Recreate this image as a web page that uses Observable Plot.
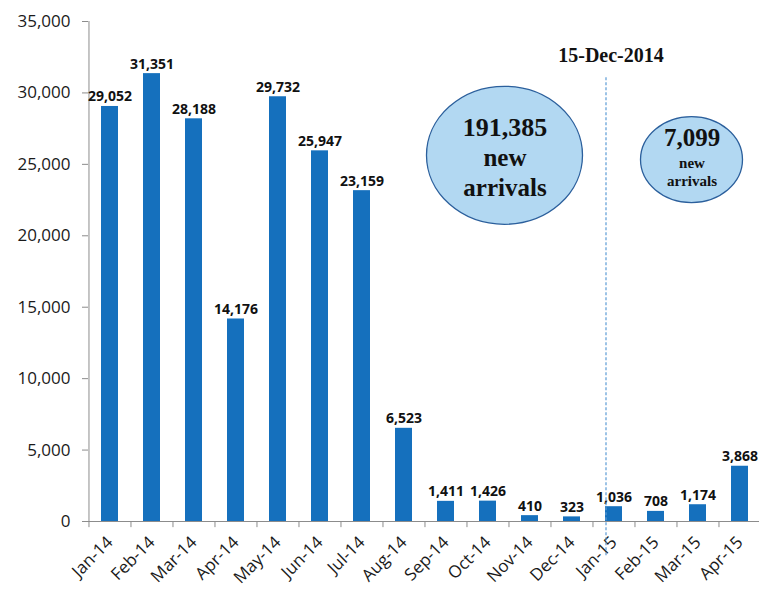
<!DOCTYPE html>
<html><head><meta charset="utf-8">
<script src="https://cdn.jsdelivr.net/npm/d3@7"></script>
<script src="https://cdn.jsdelivr.net/npm/@observablehq/plot@0.6"></script>
<style>body{margin:0;background:#fff}#chart svg{display:block}</style>
</head><body><div id="chart"></div>
<script>
const months = ["Jan-14","Feb-14","Mar-14","Apr-14","May-14","Jun-14","Jul-14","Aug-14","Sep-14","Oct-14","Nov-14","Dec-14","Jan-15","Feb-15","Mar-15","Apr-15"];
const arrivals = [29052,31351,28188,14176,29732,25947,23159,6523,1411,1426,410,323,1036,708,1174,3868];
const yTicks = [0,5000,10000,15000,20000,25000,30000,35000];
const cutoffLabel = "15-Dec-2014";
const cutoffMonth = "Jan-15";
const bubbleMonths = ["Oct-14","Mar-15"];
const bubbleTotals = ["191,385","7,099"];
const bubbleWords = ["new","arrivals"];

const data = months.map((m,i)=>({month:m, value:arrivals[i]}));

const W = 759, H = 589, ML = 88, MR = -2, MT = 21, MB = 68;
const step = (W - ML - MR) / months.length;
const fmt = d3.format(",");
const gray = "#8c8c8c";
const serif = "'Liberation Serif', 'DejaVu Serif', serif";

// bubble geometry (pixel offsets/sizes) and vertical anchors (data units)
const bubbles = [
  {month: bubbleMonths[0], dx: 17, v: 25600, rx: 78, ry: 69, total: bubbleTotals[0], big: true},
  {month: bubbleMonths[1], dx: -6, v: 25300, rx: 51, ry: 43, total: bubbleTotals[1], big: false}
];

function ellipses(arr) {
  return Plot.dot(arr, {x: "month", y: "v", render(index, scales) {
    const g = d3.create("svg:g");
    const bw = scales.x.bandwidth ? scales.x.bandwidth() : 0;
    for (const i of index) {
      const b = arr[i];
      g.append("ellipse")
        .attr("cx", scales.x(b.month) + bw/2 + b.dx)
        .attr("cy", scales.y(b.v))
        .attr("rx", b.rx).attr("ry", b.ry)
        .attr("fill", "#b2d8f2").attr("stroke", "#2b5f9c").attr("stroke-width", 1.3);
    }
    return g.node();
  }});
}

const big = bubbles.filter(b=>b.big), small = bubbles.filter(b=>!b.big);

const chart = Plot.plot({
  width: W, height: H,
  marginLeft: ML, marginRight: MR, marginTop: MT, marginBottom: MB,
  style: {fontFamily: "'Open Sans', sans-serif", color: "#1a1a1a", background: "#fff"},
  x: {domain: months, paddingInner: 0.6, paddingOuter: 0.3, label: null},
  y: {domain: [0, 35000], label: null},
  marks: [
    Plot.ruleX([months[0]], {dx: -step/2, y1: 0, y2: 35000, stroke: gray}),
    Plot.ruleY([0], {stroke: gray}),
    Plot.ruleX(months, {dx: -step/2, y1: 0, y2: -430, stroke: gray}),
    Plot.axisY({ticks: yTicks, tickFormat: fmt, tickSize: 6, tickPadding: 12, fontSize: 17, stroke: gray}),
    Plot.axisX({tickSize: 0, tickRotate: -45, tickPadding: 18, fontSize: 17}),
    Plot.barY(data, {x: "month", y: "value", fill: "#1570bd"}),
    Plot.text(data, {x: "month", y: "value", text: d=>fmt(d.value), dy: -5, lineAnchor: "bottom", fontWeight: "bold", fontSize: 14, fill: "#111"}),
    Plot.ruleX([cutoffMonth], {dx: -8, y1: -2400, y2: 31100, stroke: "#5b9bd5", strokeDasharray: "3,2", strokeWidth: 1.2}),
    Plot.text([cutoffLabel], {x: ()=>cutoffMonth, y: ()=>32200, dx: -3, text: d=>d, lineAnchor: "bottom", fontFamily: serif, fontWeight: "bold", fontSize: 20, fill: "#111"}),
    ellipses(bubbles),
    Plot.text(big, {x: "month", y: ()=>27020, dx: 17, text: "total", lineAnchor: "bottom", fontFamily: serif, fontWeight: "bold", fontSize: 26, fill: "#111"}),
    Plot.text(big, {x: "month", y: ()=>24920, dx: 17, text: ()=>bubbleWords[0], lineAnchor: "bottom", fontFamily: serif, fontWeight: "bold", fontSize: 25, fill: "#111"}),
    Plot.text(big, {x: "month", y: ()=>22820, dx: 17, text: ()=>bubbleWords[1], lineAnchor: "bottom", fontFamily: serif, fontWeight: "bold", fontSize: 25, fill: "#111"}),
    Plot.text(small, {x: "month", y: ()=>26320, dx: -6, text: "total", lineAnchor: "bottom", fontFamily: serif, fontWeight: "bold", fontSize: 25, fill: "#111"}),
    Plot.text(small, {x: "month", y: ()=>24780, dx: -6, text: ()=>bubbleWords[0], lineAnchor: "bottom", fontFamily: serif, fontWeight: "bold", fontSize: 15, fill: "#111"}),
    Plot.text(small, {x: "month", y: ()=>23520, dx: -6, text: ()=>bubbleWords[1], lineAnchor: "bottom", fontFamily: serif, fontWeight: "bold", fontSize: 15, fill: "#111"})
  ]
});
document.getElementById("chart").append(chart);
</script>
</body></html>
